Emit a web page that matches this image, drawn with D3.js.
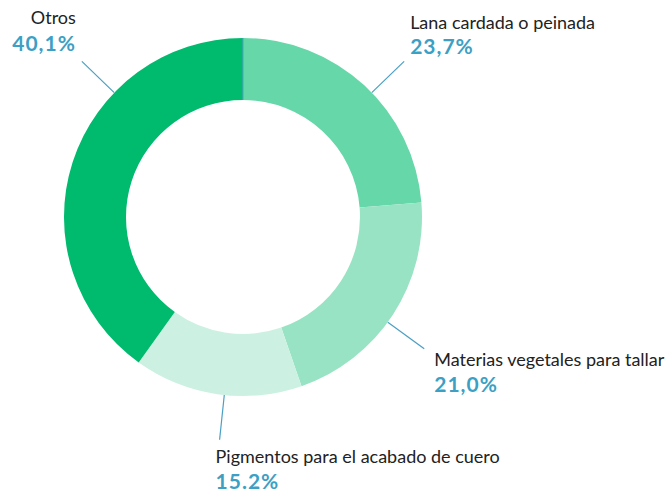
<!DOCTYPE html>
<html><head><meta charset="utf-8">
<script src="https://cdn.jsdelivr.net/npm/d3@7"></script>
<style>
html,body{margin:0;padding:0;background:#fff;}
text{font-family:Lato,"Open Sans",sans-serif;}
</style></head>
<body>
<svg id="c" width="670" height="492"></svg>
<script>
const categories = ["Lana cardada o peinada","Materias vegetales para tallar","Pigmentos para el acabado de cuero","Otros"];
const values = [23.7, 21.0, 15.2, 40.1];
const valueLabels = ["23,7%","21,0%","15.2%","40,1%"];
const colors = ["#66d7a8","#99e3c5","#ccf1e2","#00ba6e"];
// leader-line angles (degrees clockwise from top) and label placement
const labelAngles = [46, 126, 186, 314];
const labelAnchor = ["start","start","start","end"];
const labelDx = [6, 10, -4, -6];
const labelDy = [-32, 17, 23.5, -37];
const labelGap = [24.5, 26.5, 25.5, 26.5];

const svg = d3.select("#c");
const cx = 243, cy = 217, rOuter = 179, rInner = 117;
const g = svg.append("g").attr("transform", `translate(${cx},${cy})`);

const pie = d3.pie().sort(null).value(d => d)(values);
const arc = d3.arc().innerRadius(rInner).outerRadius(rOuter);
g.selectAll("path.s").data(pie).join("path").attr("class","s")
  .attr("d", arc).attr("fill", (d,i) => colors[i]);

// thin separator at start angle
g.append("line").attr("x1",0).attr("y1",-rInner).attr("x2",0).attr("y2",-rOuter)
  .attr("stroke","#5a9fc8").attr("stroke-width",1);

const rad = a => a * Math.PI / 180;
const lineLen = 45;
categories.forEach((c, i) => {
  const a = rad(labelAngles[i]);
  const x1 = rOuter * Math.sin(a), y1 = -rOuter * Math.cos(a);
  const x2 = (rOuter + lineLen) * Math.sin(a), y2 = -(rOuter + lineLen) * Math.cos(a);
  g.append("line").attr("x1",x1).attr("y1",y1).attr("x2",x2).attr("y2",y2)
    .attr("stroke","#4a9fc4").attr("stroke-width",1.2);
  const tx = x2 + labelDx[i], ty = y2 + labelDy[i];
  g.append("text").attr("x",tx).attr("y",ty).attr("text-anchor",labelAnchor[i])
    .attr("font-size",18).attr("fill","#222").text(c);
  g.append("text").attr("x",tx).attr("y",ty + labelGap[i]).attr("text-anchor",labelAnchor[i])
    .attr("font-size",21).attr("font-weight","bold").attr("letter-spacing",1)
    .attr("fill","#3d9fc4").text(valueLabels[i]);
});
</script>
</body></html>
